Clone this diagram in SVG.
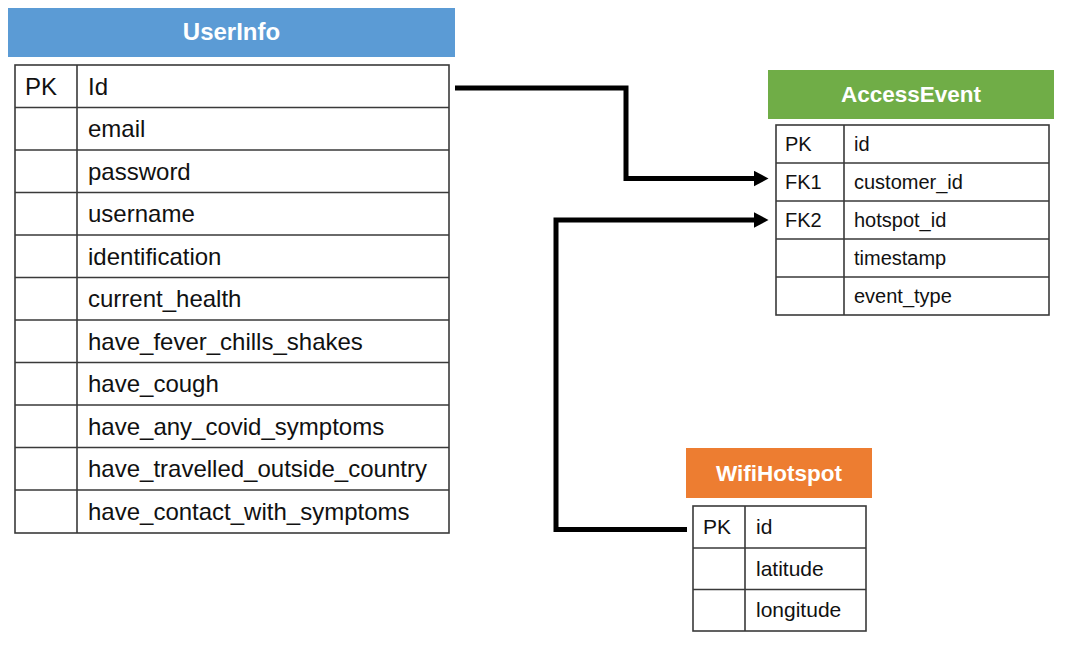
<svg xmlns="http://www.w3.org/2000/svg" width="1075" height="648" viewBox="0 0 1075 648">
<style>
  .hdr-text { font-family: "Liberation Sans", Arial, sans-serif; font-weight: bold; fill: #ffffff; text-anchor: middle; }
  .tbl { fill: #ffffff; stroke: #3a3a3a; stroke-width: 1.6; }
  .grid { stroke: #3a3a3a; stroke-width: 1.6; fill: none; }
  .cell { font-family: "Liberation Sans", Arial, sans-serif; fill: #111111; }
  .u { font-size: 24px; }
  .a { font-size: 20px; }
  .w { font-size: 21px; }
  .conn { fill: none; stroke: #000000; stroke-width: 5; stroke-linejoin: miter; }
</style>
<defs>
  <marker id="arrow" markerUnits="userSpaceOnUse" markerWidth="16" markerHeight="18" refX="0.5" refY="8" orient="auto">
    <path d="M0,0 L15,8 L0,16 Z" fill="#000000"/>
  </marker>
</defs>
<rect width="1075" height="648" fill="#ffffff"/>

<g id="UserInfo">
  <rect x="8" y="8" width="447" height="49" fill="#5B9BD5"/>
  <text class="hdr-text" x="231.5" y="40" font-size="24">UserInfo</text>
  <rect class="tbl" x="15" y="65" width="434" height="468"/>
  <path class="grid" d="M77,65 V533 M15,107.5 H449 M15,150 H449 M15,192.5 H449 M15,235 H449 M15,277.5 H449 M15,320 H449 M15,362.5 H449 M15,405 H449 M15,447.5 H449 M15,490 H449"/>
  <text class="cell u" x="25" y="95">PK</text>
  <text class="cell u" x="88" y="95">Id</text>
  <text class="cell u" x="88" y="137">email</text>
  <text class="cell u" x="88" y="180">password</text>
  <text class="cell u" x="88" y="222">username</text>
  <text class="cell u" x="88" y="265">identification</text>
  <text class="cell u" x="88" y="307">current_health</text>
  <text class="cell u" x="88" y="350">have_fever_chills_shakes</text>
  <text class="cell u" x="88" y="392">have_cough</text>
  <text class="cell u" x="88" y="435">have_any_covid_symptoms</text>
  <text class="cell u" x="88" y="477">have_travelled_outside_country</text>
  <text class="cell u" x="88" y="520">have_contact_with_symptoms</text>
</g>

<g id="AccessEvent">
  <rect x="768" y="70" width="286" height="49" fill="#70AD47"/>
  <text class="hdr-text" x="911" y="102" font-size="22.5">AccessEvent</text>
  <rect class="tbl" x="776" y="125" width="273" height="190"/>
  <path class="grid" d="M844,125 V315 M776,163 H1049 M776,201 H1049 M776,239 H1049 M776,277 H1049"/>
  <text class="cell a" x="785" y="151">PK</text>
  <text class="cell a" x="854" y="151">id</text>
  <text class="cell a" x="785" y="189">FK1</text>
  <text class="cell a" x="854" y="189">customer_id</text>
  <text class="cell a" x="785" y="227">FK2</text>
  <text class="cell a" x="854" y="227">hotspot_id</text>
  <text class="cell a" x="854" y="265">timestamp</text>
  <text class="cell a" x="854" y="303">event_type</text>
</g>

<g id="WifiHotspot">
  <rect x="686" y="448" width="186" height="50" fill="#ED7D31"/>
  <text class="hdr-text" x="779" y="481" font-size="22.5">WifiHotspot</text>
  <rect class="tbl" x="693" y="506" width="173" height="125"/>
  <path class="grid" d="M745,506 V631 M693,548 H866 M693,589.5 H866"/>
  <text class="cell w" x="703" y="534">PK</text>
  <text class="cell w" x="756" y="534">id</text>
  <text class="cell w" x="756" y="576">latitude</text>
  <text class="cell w" x="756" y="617">longitude</text>
</g>

<g id="connectors">
  <path class="conn" d="M455,88 H626 V178.5 H754" marker-end="url(#arrow)"/>
  <path class="conn" d="M687,529.5 H556 V220 H754" marker-end="url(#arrow)"/>
</g>
</svg>
